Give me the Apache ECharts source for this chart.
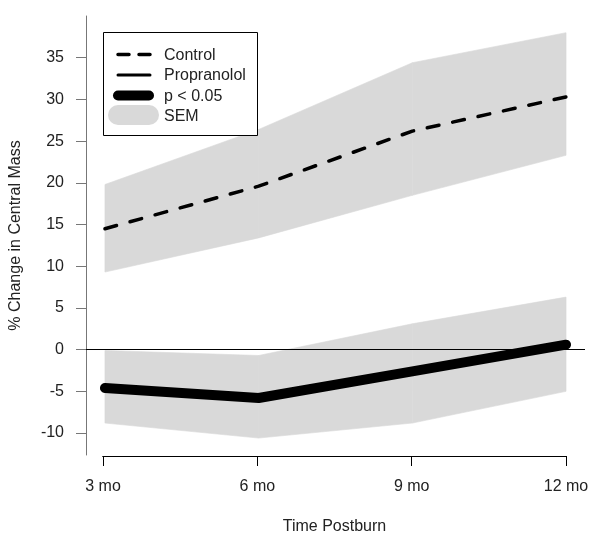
<!DOCTYPE html>
<html>
<head>
<meta charset="utf-8">
<script src="https://cdn.jsdelivr.net/npm/echarts@6/dist/echarts.min.js"></script>
<style>html,body{margin:0;padding:0;background:#fff}#c{width:601px;height:546px}</style>
</head>
<body>
<div id="c"></div>
<script>
var categories = ['3 mo', '6 mo', '9 mo', '12 mo'];
var months = [3, 6, 9, 12];
var controlMean = [14.5, 19.6, 26.2, 30.3];
var controlUpper = [19.8, 26.4, 34.4, 38.0];
var controlLower = [9.3, 13.4, 18.5, 23.3];
var propMean = [-4.6, -5.8, -2.6, 0.6];
var propUpper = [-0.1, -0.7, 3.1, 6.3];
var propLower = [-8.8, -10.6, -8.8, -5.0];
var yTicks = [-10, -5, 0, 5, 10, 15, 20, 25, 30, 35];
var legendNames = ['Control', 'Propranolol', 'p < 0.05', 'SEM'];

var FONT = 'Liberation Sans, Arial, sans-serif';
var BAND = '#d9d9d9';
var Y_MIN = -12.63, Y_MAX = 40.0;

function pairs(vals) { return months.map(function (m, i) { return [m, vals[i]]; }); }
// band segments: [x_i, lo_i, up_i, x_i+1, lo_i+1, up_i+1]
function segments(lo, up) {
  var out = [];
  for (var i = 0; i < months.length - 1; i++) {
    out.push([months[i], lo[i], up[i], months[i + 1], lo[i + 1], up[i + 1]]);
  }
  return out;
}
function renderBand(params, api) {
  var a = api.coord([api.value(0), api.value(1)]);
  var b = api.coord([api.value(3), api.value(4)]);
  var c = api.coord([api.value(3), api.value(5)]);
  var d = api.coord([api.value(0), api.value(2)]);
  return { type: 'polygon', shape: { points: [a, b, c, d] }, style: { fill: BAND, stroke: BAND, lineWidth: 0.6 } };
}

var chart = echarts.init(document.getElementById('c'), null, { renderer: 'canvas' });

var option = {
  animation: false,
  backgroundColor: '#fff',
  grid: [
    { left: 84, right: 16, top: 16, bottom: 91 },
    { left: 103, right: 35, top: 16, bottom: 90 }
  ],
  xAxis: [
    { gridIndex: 0, type: 'value', min: 2.63, max: 12.37, show: false },
    {
      gridIndex: 1, type: 'value', min: 3, max: 12, interval: 3,
      axisLine: { show: true, onZero: false, lineStyle: { color: '#000', width: 1 } },
      axisTick: { show: true, length: 10, lineStyle: { color: '#000' } },
      splitLine: { show: false },
      axisLabel: {
        margin: 23, fontSize: 16, fontFamily: FONT, color: '#222',
        formatter: function (v) { var i = months.indexOf(v); return i >= 0 ? categories[i] : ''; }
      },
      name: 'Time Postburn', nameLocation: 'middle', nameGap: 71,
      nameTextStyle: { fontSize: 16, fontFamily: FONT, color: '#222', verticalAlign: 'middle' }
    }
  ],
  yAxis: [
    {
      gridIndex: 0, type: 'value', min: Y_MIN, max: Y_MAX,
      axisLine: { show: true, lineStyle: { color: '#777', width: 1 } },
      axisTick: { show: true, length: 10, customValues: yTicks, lineStyle: { color: '#777' } },
      splitLine: { show: false },
      axisLabel: { margin: 22, fontSize: 16, fontFamily: FONT, color: '#222', customValues: yTicks },
      name: '% Change in Central Mass', nameLocation: 'middle', nameGap: 70, nameRotate: 90,
      nameTextStyle: { fontSize: 16, fontFamily: FONT, color: '#222', verticalAlign: 'middle' }
    },
    { gridIndex: 1, type: 'value', min: Y_MIN, max: Y_MAX, show: false }
  ],
  series: [
    { type: 'custom', xAxisIndex: 0, yAxisIndex: 0, silent: true, z: 1, renderItem: renderBand, data: segments(controlLower, controlUpper), encode: { x: [0, 3], y: [1, 2, 4, 5] } },
    { type: 'custom', xAxisIndex: 0, yAxisIndex: 0, silent: true, z: 1, renderItem: renderBand, data: segments(propLower, propUpper), encode: { x: [0, 3], y: [1, 2, 4, 5] } },
    {
      name: 'Control', type: 'line', xAxisIndex: 0, yAxisIndex: 0,
      data: pairs(controlMean), showSymbol: false, silent: true, z: 3,
      lineStyle: { color: '#000', width: 3.5, type: [12, 14], cap: 'round' },
      markLine: { silent: true, symbol: ['none', 'none'], label: { show: false }, lineStyle: { color: '#000', width: 1, type: 'solid' }, data: [{ yAxis: 0 }] }
    },
    {
      name: 'Propranolol', type: 'line', xAxisIndex: 0, yAxisIndex: 0,
      data: pairs(propMean), showSymbol: false, silent: true, z: 4,
      lineStyle: { color: '#000', width: 10, cap: 'round', join: 'round' }
    }
  ],
  graphic: [
    { type: 'rect', shape: { x: 103.5, y: 32.5, width: 154, height: 103 }, style: { fill: '#fff', stroke: '#000', lineWidth: 1 }, z: 10 },
    { type: 'line', shape: { x1: 118, y1: 54.5, x2: 150, y2: 54.5 }, style: { stroke: '#000', lineWidth: 3.5, lineDash: [11, 10], lineCap: 'round' }, z: 11 },
    { type: 'line', shape: { x1: 118, y1: 75, x2: 150, y2: 75 }, style: { stroke: '#000', lineWidth: 3, lineCap: 'round' }, z: 11 },
    { type: 'line', shape: { x1: 118, y1: 95.5, x2: 149, y2: 95.5 }, style: { stroke: '#000', lineWidth: 10, lineCap: 'round' }, z: 11 },
    { type: 'rect', shape: { x: 108, y: 105, width: 51, height: 20, r: 10 }, style: { fill: BAND }, z: 11 },
    { type: 'text', x: 164, y: 55.5, style: { text: legendNames[0], font: '16px ' + FONT, fill: '#222', verticalAlign: 'middle' }, z: 11 },
    { type: 'text', x: 164, y: 76, style: { text: legendNames[1], font: '16px ' + FONT, fill: '#222', verticalAlign: 'middle' }, z: 11 },
    { type: 'text', x: 164, y: 96.5, style: { text: legendNames[2], font: '16px ' + FONT, fill: '#222', verticalAlign: 'middle' }, z: 11 },
    { type: 'text', x: 164, y: 117, style: { text: legendNames[3], font: '16px ' + FONT, fill: '#222', verticalAlign: 'middle' }, z: 11 }
  ]
};
chart.setOption(option);

// x-axis baseline from first to last tick, located through the axis scale
var pA = chart.convertToPixel({ xAxisIndex: 1, yAxisIndex: 1 }, [months[0], Y_MIN]);
var pB = chart.convertToPixel({ xAxisIndex: 1, yAxisIndex: 1 }, [months[months.length - 1], Y_MIN]);
var yBase = Math.round(pA[1]) + 0.5;
chart.setOption({ graphic: [
  { id: 'xbaseline', type: 'line', zlevel: 1, z: 100,
    shape: { x1: pA[0] - 0.5, y1: yBase, x2: pB[0] + 0.5, y2: yBase },
    style: { stroke: '#000', lineWidth: 1 } }
]});
</script>
</body>
</html>
